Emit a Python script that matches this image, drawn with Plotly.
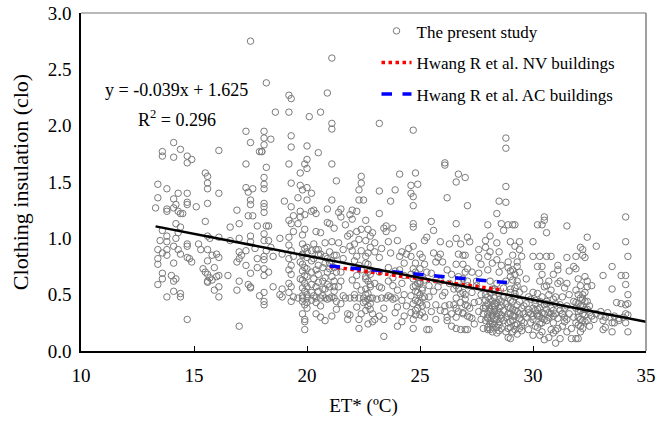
import plotly.graph_objects as go

# ---- The present study: (ET*, clo) pairs, grouped by ET* band ----
band_13_15 = [
    (13.3, 1.27), (13.4, 1.48), (13.4, 1.36), (13.6, 1.77), (13.6, 1.73), (13.8, 1.44), (13.8, 1.26),
    (13.8, 1.24), (13.6, 1.07), (13.8, 1.02), (13.5, 0.98), (13.4, 0.90), (13.6, 0.87), (13.4, 0.82),
    (13.4, 0.77), (13.6, 0.69), (13.6, 0.64), (13.4, 0.59), (13.8, 0.48), (13.8, 0.97), (13.8, 0.90),
    (13.8, 0.85), (14.1, 1.85), (14.1, 1.72), (14.4, 1.79), (14.1, 1.35), (14.3, 1.40), (14.2, 1.30),
    (14.1, 1.27), (14.3, 1.24), (14.4, 1.22), (14.2, 1.13), (14.4, 1.10), (14.3, 1.05), (14.2, 1.00),
    (14.1, 0.93), (14.3, 0.90), (14.4, 0.86), (14.1, 0.78), (14.0, 0.67), (14.1, 0.62), (14.2, 0.64),
    (14.1, 0.53), (14.4, 0.51), (14.4, 0.48), (14.5, 1.22), (14.7, 1.73), (14.7, 1.67), (14.9, 1.70),
    (14.7, 1.40), (14.7, 1.32), (14.7, 1.30), (14.7, 0.95), (14.7, 0.93), (14.7, 0.83), (14.8, 0.82),
    (14.9, 0.79), (14.7, 0.28),
]
band_15_17 = [
    (15.1, 1.28), (15.2, 0.95), (15.3, 0.90), (15.5, 1.58), (15.6, 1.55), (15.6, 1.49), (15.6, 1.44),
    (15.6, 1.31), (15.5, 1.15), (15.6, 1.02), (15.7, 1.00), (15.6, 0.90), (15.6, 0.80), (15.4, 0.73),
    (15.6, 0.68), (15.5, 0.70), (15.7, 0.65), (15.6, 0.62), (15.6, 0.61), (16.1, 1.78), (16.1, 1.40),
    (16.1, 1.01), (16.0, 0.86), (16.1, 0.83), (15.9, 0.74), (16.1, 0.67), (16.0, 0.66), (16.1, 0.57),
    (15.9, 0.54), (16.1, 0.48), (16.6, 0.98), (16.5, 0.67), (16.6, 1.10), (15.8, 0.63), (15.8, 0.85),
    (16.9, 1.25), (17.0, 1.13), (17.0, 1.00), (17.0, 0.88), (17.1, 0.85), (17.0, 0.82), (16.9, 0.79),
    (17.0, 0.62), (16.9, 0.54), (17.0, 0.22),
]
band_17_19 = [
    (17.3, 1.66), (17.3, 1.95), (17.3, 1.45), (17.4, 1.41), (17.4, 1.20), (17.5, 1.02), (17.5, 0.97),
    (17.3, 0.89), (17.3, 0.76), (17.5, 0.69), (17.4, 0.59), (17.5, 0.57), (17.5, 0.56), (17.5, 2.75),
    (17.5, 1.85), (17.6, 1.44), (17.5, 1.34), (17.5, 1.30), (17.6, 1.20), (17.9, 1.77), (18.0, 1.77),
    (17.8, 1.11), (17.7, 0.91), (17.8, 0.82), (17.8, 0.74), (17.9, 0.49), (18.1, 1.95), (18.1, 1.89),
    (18.1, 1.83), (18.0, 1.77), (18.2, 1.63), (18.1, 1.54), (18.1, 1.48), (18.1, 1.44), (18.1, 1.31),
    (18.1, 1.28), (18.1, 1.23), (18.2, 1.11), (18.1, 1.04), (18.1, 0.98), (18.2, 0.89), (18.1, 0.84),
    (18.1, 0.81), (18.1, 0.73), (18.1, 0.67), (18.1, 0.52), (18.1, 0.44), (18.1, 0.41), (18.2, 2.38),
    (18.4, 1.88), (18.3, 1.11), (18.3, 0.98), (18.4, 0.92), (18.5, 0.84), (18.3, 0.70), (18.5, 0.57),
    (18.6, 2.12), (18.8, 1.00), (18.9, 0.86), (18.9, 0.55), (18.8, 0.50), (18.9, 0.48),
]
band_19_20 = [
    (19.0, 1.33), (19.2, 1.16), (19.3, 1.28), (19.2, 2.27), (19.3, 2.24), (19.2, 2.12), (19.3, 1.91),
    (19.3, 1.81), (19.2, 1.66), (19.3, 1.49), (19.3, 1.13), (19.4, 1.06), (19.2, 1.01), (19.2, 0.94),
    (19.3, 0.89), (19.4, 0.84), (19.2, 0.82), (19.3, 0.76), (19.2, 0.72), (19.3, 0.68), (19.2, 0.60),
    (19.3, 0.57), (19.2, 0.52), (19.4, 0.48), (19.3, 0.44), (19.4, 1.20), (19.7, 1.58), (19.7, 1.47),
    (19.8, 1.43), (19.6, 1.36), (19.7, 1.24), (19.9, 1.21), (19.7, 1.19), (19.6, 1.13), (19.9, 1.08),
    (19.8, 1.03), (19.9, 0.91), (20.0, 0.88), (19.8, 0.85), (20.0, 0.83), (19.7, 0.79), (19.9, 0.74),
    (19.8, 0.71), (19.9, 0.67), (19.7, 0.64), (19.9, 0.60), (20.0, 0.57), (19.9, 0.53), (19.8, 0.49),
    (20.0, 0.47), (19.8, 0.44), (19.9, 0.41), (20.0, 0.38), (19.8, 0.33), (19.9, 0.28), (19.9, 0.26),
    (19.9, 0.19), (19.9, 1.66), (20.0, 1.62), (20.0, 1.70), (20.0, 1.82), (20.0, 1.45), (20.0, 1.34),
    (20.2, 1.24), (20.2, 1.40), (20.1, 2.08), (19.8, 0.95), (20.0, 0.92), (20.2, 0.89), (19.8, 0.86),
    (20.2, 0.80), (19.8, 0.77), (20.0, 0.73), (20.2, 0.70), (20.0, 0.66), (19.8, 0.63), (20.2, 0.59),
    (19.8, 0.56), (20.2, 0.52), (20.0, 0.50), (20.2, 0.45), (20.0, 0.43), (19.6, 0.47), (19.8, 0.47),
]
band_20_22 = [
    (20.5, 1.76), (20.3, 1.25), (20.4, 1.22), (20.4, 1.06), (20.3, 0.95), (20.4, 0.90), (20.5, 0.86),
    (20.3, 0.82), (20.5, 0.76), (20.4, 0.72), (20.5, 0.68), (20.3, 0.64), (20.5, 0.61), (20.4, 0.57),
    (20.5, 0.53), (20.3, 0.49), (20.6, 0.47), (20.4, 0.43), (20.6, 0.40), (20.4, 0.33), (20.6, 0.30),
    (20.8, 0.27), (20.6, 2.12), (20.6, 1.05), (20.8, 0.96), (20.9, 1.26), (20.9, 1.14), (20.9, 0.82),
    (20.8, 0.78), (20.7, 0.74), (20.9, 0.70), (20.8, 0.65), (20.7, 0.62), (20.9, 0.59), (20.8, 0.55),
    (20.7, 0.49), (20.9, 0.46), (20.9, 2.29), (20.4, 0.47), (20.8, 0.47), (21.0, 0.47), (21.2, 0.47),
    (20.6, 0.86), (20.8, 0.84), (21.0, 0.78), (20.7, 0.55), (21.2, 0.74), (20.5, 0.90), (21.3, 0.85),
    (21.2, 0.57), (21.1, 2.60), (21.1, 2.02), (21.1, 1.97), (21.1, 1.66), (21.1, 1.34), (21.0, 1.13),
    (21.2, 1.09), (21.1, 0.97), (21.0, 0.88), (21.2, 0.85), (21.1, 0.80), (21.0, 0.73), (21.3, 0.70),
    (21.1, 0.66), (21.2, 0.62), (21.0, 0.57), (21.2, 0.53), (21.1, 0.48), (21.3, 0.44), (21.1, 0.31),
    (21.3, 1.51), (21.5, 1.26), (21.4, 1.23), (21.5, 1.19), (21.4, 0.96), (21.6, 0.82), (21.5, 0.70),
    (21.5, 0.62), (21.4, 0.57), (21.6, 0.49), (21.5, 0.42), (21.8, 0.33), (21.8, 0.28), (21.9, 1.21),
    (21.7, 1.12), (21.9, 0.93), (21.6, 0.90), (21.8, 1.02), (21.3, 0.37), (21.9, 0.32), (21.7, 0.47),
    (21.9, 0.47),
]
band_22_24 = [
    (22.0, 1.25), (22.0, 1.17), (22.2, 1.24), (21.9, 1.04), (22.4, 1.08), (22.3, 0.99), (22.1, 0.95),
    (22.0, 0.89), (22.2, 0.84), (22.1, 0.80), (22.3, 0.76), (22.4, 0.72), (22.2, 0.67), (22.0, 0.63),
    (22.2, 0.58), (22.4, 0.54), (22.1, 0.50), (22.3, 0.47), (22.5, 0.43), (22.2, 0.39), (22.4, 0.33),
    (22.3, 0.28), (22.4, 1.55), (22.4, 1.49), (22.3, 1.43), (22.3, 1.34), (22.5, 1.34), (22.6, 0.84),
    (22.7, 0.77), (22.8, 0.68), (22.6, 0.64), (22.8, 0.59), (22.6, 0.55), (22.7, 0.51), (22.8, 0.47),
    (22.6, 0.44), (22.7, 0.40), (22.8, 0.37), (22.7, 0.24), (22.7, 1.08), (22.8, 1.02), (22.6, 0.98),
    (22.8, 0.92), (22.7, 0.87), (23.0, 0.28), (22.6, 0.78), (22.8, 0.72), (22.7, 0.62), (22.8, 0.57),
    (22.6, 0.50), (22.7, 0.46), (22.8, 0.42), (22.6, 0.36), (22.9, 0.33), (22.7, 0.70), (22.6, 0.66),
    (22.1, 0.47), (22.5, 0.47), (22.9, 0.47), (23.3, 0.47), (23.5, 0.47), (23.9, 0.47), (22.2, 1.06),
    (22.6, 1.16), (22.9, 1.05), (23.0, 0.96), (23.3, 0.91), (23.6, 0.97), (22.4, 0.89), (23.4, 1.09),
    (23.2, 2.02), (23.2, 1.42), (23.2, 1.22), (23.5, 1.11), (23.5, 1.06), (23.0, 0.88), (23.2, 0.83),
    (23.2, 0.70), (23.0, 0.60), (23.2, 0.57), (23.1, 0.46), (23.2, 0.31), (23.4, 0.28), (23.4, 0.13),
    (23.7, 1.33), (23.9, 1.43), (23.8, 1.09), (23.7, 0.87), (23.6, 0.74), (23.8, 0.65), (23.7, 0.48),
    (23.8, 0.46), (23.6, 0.49), (24.0, 0.39), (23.9, 0.34), (24.2, 0.26), (24.1, 1.57), (24.0, 0.98),
    (24.1, 0.84), (24.1, 0.72), (24.3, 0.67), (24.2, 0.60), (24.0, 0.54), (24.3, 0.50), (24.2, 0.45),
    (24.4, 0.40), (24.3, 0.78), (24.2, 0.88), (23.9, 0.71), (23.6, 0.62), (23.3, 0.56), (23.4, 0.38),
    (23.8, 0.58), (24.3, 0.31), (24.0, 0.22), (22.9, 0.26), (22.3, 0.20),
]
band_24_26 = [
    (24.7, 1.96), (24.8, 1.58), (24.9, 1.48), (24.6, 1.47), (24.6, 1.40), (24.7, 1.37), (24.7, 1.29),
    (24.7, 1.13), (24.7, 1.10), (24.7, 0.93), (24.5, 0.91), (24.4, 0.86), (24.6, 0.84), (24.8, 0.78),
    (24.7, 0.73), (24.8, 0.70), (24.6, 0.68), (24.7, 0.64), (24.9, 0.60), (24.7, 0.57), (24.8, 0.53),
    (24.6, 0.49), (24.8, 0.45), (24.7, 0.42), (24.9, 0.38), (24.6, 0.34), (24.8, 0.32), (24.7, 0.28),
    (24.7, 0.20), (25.0, 0.60), (25.1, 0.54), (25.0, 0.50), (25.1, 0.47), (25.0, 0.43), (25.1, 0.34),
    (25.0, 0.32), (25.2, 0.98), (25.3, 1.01), (25.0, 0.86), (25.1, 0.83), (25.2, 0.77), (25.0, 0.73),
    (25.3, 0.70), (25.1, 0.66), (25.2, 0.63), (25.3, 0.19), (25.4, 0.19), (25.3, 0.41), (25.4, 0.58),
    (24.9, 0.66), (25.0, 0.62), (24.8, 0.58), (25.1, 0.56), (24.9, 0.52), (25.2, 0.48), (24.9, 0.44),
    (25.1, 0.40), (24.8, 0.36), (25.2, 0.30), (25.5, 1.15), (25.6, 1.07), (25.6, 0.87), (25.8, 0.83),
    (25.7, 0.79), (25.5, 0.69), (25.6, 0.53), (25.4, 0.48), (25.7, 0.41), (25.9, 0.97), (25.9, 0.62),
    (26.0, 0.49), (25.9, 0.36), (26.1, 0.35), (26.2, 0.30), (26.2, 0.27), (25.9, 0.86), (26.0, 0.79),
    (25.7, 0.63), (25.8, 0.57), (25.7, 0.28), (25.5, 0.35),
]
band_26_28 = [
    (26.1, 1.67), (26.1, 1.65), (26.2, 1.36), (26.3, 0.95), (26.1, 0.52), (26.3, 0.41), (26.4, 0.33),
    (26.6, 1.50), (26.7, 1.57), (26.6, 1.13), (26.6, 1.00), (26.8, 0.95), (26.7, 0.86), (26.6, 0.77),
    (26.7, 0.66), (26.6, 0.58), (26.7, 0.55), (26.8, 0.51), (26.6, 0.47), (26.5, 0.41), (26.7, 0.35),
    (26.6, 0.30), (26.6, 0.20), (26.8, 0.19), (27.0, 1.54), (27.1, 1.29), (27.1, 1.01), (27.2, 0.97),
    (26.9, 0.85), (27.0, 0.85), (27.1, 0.73), (27.0, 0.70), (26.9, 0.64), (27.1, 0.58), (27.0, 0.50),
    (27.0, 0.41), (27.2, 0.38), (26.9, 0.34), (27.1, 0.31), (27.3, 0.29), (27.0, 0.19), (27.1, 0.19),
    (27.4, 0.43), (27.6, 0.69), (27.5, 0.58), (27.7, 0.50), (27.6, 0.44), (27.8, 0.38), (27.6, 0.35),
    (27.7, 0.28), (27.6, 0.83), (27.7, 0.77), (26.7, 0.62), (26.9, 0.52), (27.0, 0.46), (26.8, 0.43),
    (27.1, 0.40), (26.6, 0.38), (26.9, 0.33), (27.2, 0.30), (27.1, 0.62), (26.2, 0.72), (26.4, 0.68),
    (26.3, 0.60), (26.5, 0.55), (26.9, 0.77), (27.3, 0.70), (27.5, 0.62), (27.3, 0.52), (27.6, 0.90),
    (26.4, 0.22), (26.1, 0.40), (27.4, 0.24), (27.8, 0.20),
]
band_28_29 = [
    (28.1, 1.02), (27.9, 0.92), (28.1, 0.88), (28.0, 0.84), (28.2, 0.78), (28.0, 0.72), (28.1, 0.62),
    (28.2, 0.55), (27.9, 0.50), (28.1, 0.46), (28.0, 0.42), (28.2, 0.40), (27.9, 0.38), (28.1, 0.35),
    (28.0, 0.33), (28.2, 0.31), (28.0, 0.29), (28.1, 0.27), (28.2, 0.24), (28.0, 0.21), (28.1, 0.19),
    (28.2, 0.17), (28.4, 1.22), (28.5, 1.33), (28.6, 1.13), (28.7, 1.07), (28.4, 0.96), (28.5, 0.88),
    (28.4, 0.81), (28.6, 0.76), (28.5, 0.70), (28.4, 0.60), (28.3, 0.53), (28.5, 0.46), (28.4, 0.43),
    (28.6, 0.40), (28.3, 0.37), (28.5, 0.34), (28.4, 0.31), (28.6, 0.29), (28.5, 0.26), (28.3, 0.24),
    (28.4, 0.21), (28.5, 0.18), (28.3, 0.42), (28.3, 0.35), (28.4, 0.28), (28.0, 1.12), (27.9, 0.98),
    (27.9, 0.45), (28.0, 0.48), (28.2, 0.44), (28.3, 0.47), (28.6, 0.44), (28.7, 0.48), (28.8, 0.42),
    (27.9, 0.40), (28.1, 0.37), (28.3, 0.40), (28.5, 0.38), (28.7, 0.36), (28.9, 0.39), (27.8, 0.33),
    (28.0, 0.30), (28.2, 0.34), (28.4, 0.33), (28.6, 0.32), (28.8, 0.30), (27.9, 0.27), (28.1, 0.24),
    (28.3, 0.28), (28.5, 0.23), (28.7, 0.27), (28.9, 0.25), (28.0, 0.19), (28.2, 0.21), (28.4, 0.16),
    (28.6, 0.20), (28.8, 0.17), (28.1, 0.52), (28.3, 0.55), (28.5, 0.51), (28.7, 0.56), (28.8, 0.62),
]
band_29_30 = [
    (28.8, 1.89), (28.8, 1.80), (28.8, 1.46), (28.8, 1.32), (28.9, 1.12), (29.1, 1.12), (29.2, 1.12),
    (29.0, 0.97), (29.2, 0.93), (29.4, 0.90), (29.1, 0.85), (28.9, 0.79), (29.3, 0.75), (29.0, 0.71),
    (29.2, 0.68), (29.1, 0.63), (29.3, 0.58), (29.0, 0.55), (29.2, 0.51), (28.9, 0.47), (29.1, 0.44),
    (29.3, 0.41), (29.0, 0.38), (29.2, 0.36), (28.9, 0.33), (29.1, 0.31), (29.4, 0.29), (29.0, 0.26),
    (29.2, 0.23), (28.9, 0.20), (29.1, 0.17), (28.9, 0.12), (29.0, 0.11), (29.3, 0.15), (29.5, 0.18),
    (29.5, 0.22), (29.5, 0.84), (29.4, 0.97), (29.6, 0.55), (29.7, 0.64), (29.8, 0.48), (29.6, 0.40),
    (29.0, 0.45), (29.2, 0.48), (29.4, 0.44), (29.1, 0.37), (29.3, 0.35), (29.5, 0.38), (29.0, 0.33),
    (29.2, 0.31), (29.4, 0.33), (29.1, 0.27), (29.3, 0.24), (29.5, 0.27), (29.0, 0.21), (29.2, 0.19),
    (29.4, 0.20), (29.0, 0.52), (29.2, 0.56), (29.4, 0.52), (29.0, 0.66), (29.3, 0.62), (29.1, 0.72),
    (29.3, 0.79), (29.4, 0.70), (28.9, 0.74), (30.0, 0.84), (30.0, 0.97), (30.0, 0.52), (29.9, 0.46),
    (30.1, 0.42), (30.0, 0.38), (29.8, 0.34), (30.2, 0.31), (30.0, 0.28), (29.9, 0.25), (30.1, 0.22),
    (29.8, 0.19), (30.0, 0.14), (29.6, 0.33), (29.7, 0.30), (29.8, 0.37), (29.9, 0.33), (30.0, 0.31),
    (30.1, 0.36), (29.7, 0.42), (30.1, 0.45), (29.6, 0.25),
]
band_30_32 = [
    (30.2, 1.12), (30.3, 0.84), (30.2, 0.75), (30.4, 0.68), (30.3, 0.62), (30.5, 0.57), (30.2, 0.51),
    (30.4, 0.48), (30.3, 0.44), (30.5, 0.41), (30.2, 0.37), (30.4, 0.34), (30.3, 0.31), (30.5, 0.28),
    (30.4, 0.25), (30.2, 0.21), (30.4, 0.17), (30.3, 0.14), (30.5, 0.10), (30.5, 1.19), (30.5, 1.16),
    (30.4, 1.12), (30.6, 1.05), (30.6, 0.84), (30.4, 0.75), (30.8, 0.84), (30.9, 0.68), (30.7, 0.62),
    (30.6, 0.58), (30.8, 0.54), (30.7, 0.50), (30.9, 0.46), (30.6, 0.42), (30.8, 0.38), (30.7, 0.34),
    (30.9, 0.31), (30.6, 0.27), (30.8, 0.19), (30.9, 0.16), (30.7, 0.12), (31.0, 0.07), (31.2, 0.11),
    (31.0, 0.18), (31.1, 0.20), (31.0, 0.48), (31.1, 0.60), (31.2, 0.62), (31.2, 0.41), (31.3, 0.33),
    (31.4, 0.30), (31.1, 0.76), (31.1, 0.72), (31.3, 0.48), (31.4, 0.26), (31.5, 1.11), (31.5, 0.83),
    (31.6, 0.71), (31.5, 0.60), (31.4, 0.56), (31.6, 0.50), (31.5, 0.40), (31.6, 0.33), (31.5, 0.28),
    (31.5, 0.17), (31.7, 0.11), (31.7, 0.20), (30.2, 0.33), (30.3, 0.38), (30.4, 0.29), (30.5, 0.33),
    (30.6, 0.37), (30.7, 0.30), (30.8, 0.33), (30.9, 0.36), (31.0, 0.33), (31.1, 0.29), (31.2, 0.36),
    (31.3, 0.33), (31.4, 0.38), (30.6, 0.44), (31.0, 0.42), (30.3, 0.24), (30.9, 0.25), (31.3, 0.22),
]
band_32_35 = [
    (31.9, 0.84), (31.8, 0.75), (31.9, 0.73), (32.0, 0.64), (32.1, 0.58), (31.9, 0.54), (32.0, 0.50),
    (32.2, 0.46), (31.9, 0.43), (32.1, 0.40), (32.3, 0.37), (32.0, 0.35), (32.2, 0.33), (31.8, 0.30),
    (32.1, 0.28), (32.3, 0.26), (32.0, 0.23), (32.2, 0.20), (32.1, 0.17), (32.0, 0.11), (31.9, 0.11),
    (32.1, 0.92), (32.2, 0.85), (32.3, 0.83), (32.2, 0.90), (32.4, 1.01), (32.3, 0.66), (32.4, 0.62),
    (32.4, 0.57), (32.4, 0.44), (32.5, 0.40), (32.5, 0.34), (32.5, 0.22), (32.6, 0.31), (32.6, 0.58),
    (32.8, 0.93), (32.7, 0.28), (31.8, 0.44), (31.9, 0.38), (32.0, 0.42), (32.1, 0.36), (32.2, 0.40),
    (32.3, 0.44), (32.4, 0.37), (32.0, 0.30), (32.2, 0.27), (32.3, 0.32), (32.1, 0.22), (32.4, 0.27),
    (31.9, 0.25), (32.2, 0.50), (32.3, 0.52), (32.1, 0.47), (33.1, 0.67), (33.0, 0.35), (33.1, 0.27),
    (33.2, 0.21), (33.1, 0.19), (33.3, 0.34), (33.4, 0.30), (33.5, 0.25), (33.5, 0.17), (33.5, 0.75),
    (33.5, 0.55), (33.7, 0.43), (33.6, 0.31), (33.8, 0.29), (33.9, 0.67), (34.1, 0.67), (34.1, 0.97),
    (34.1, 1.19), (34.1, 0.59), (34.2, 0.84), (34.2, 0.50), (34.2, 0.42), (34.1, 0.41), (34.1, 0.33),
    (34.2, 0.32), (34.1, 0.25), (34.2, 0.17), (33.9, 0.42), (32.8, 0.33), (33.0, 0.31), (33.2, 0.30),
    (33.6, 0.25), (33.8, 0.27), (34.0, 0.30),
]

study_points = (band_13_15 + band_15_17 + band_17_19 + band_19_20 + band_20_22 + band_22_24
                + band_24_26 + band_26_28 + band_28_29 + band_29_30 + band_30_32 + band_32_35)
et_star = [p[0] for p in study_points]
clo = [p[1] for p in study_points]

# ---- Linear fit of the present study ----
fit_slope = -0.039
fit_intercept = 1.625
fit_x = [13.3, 35.0]
fit_y = [fit_slope * x + fit_intercept for x in fit_x]

# ---- Hwang R et al. lines ----
nv_x = [21.0, 28.7]
nv_y = [0.75, 0.54]
ac_x = [21.0, 28.85]
ac_y = [0.755, 0.607]

x_ticks = [10, 15, 20, 25, 30, 35]
y_ticks = [0.0, 0.5, 1.0, 1.5, 2.0, 2.5, 3.0]

FONT = "Liberation Serif, Times New Roman, serif"

fig = go.Figure()
fig.add_trace(go.Scatter(
    x=et_star, y=clo, mode="markers", name="The present study",
    legendgroup="a",
    marker=dict(symbol="circle-open", size=6.5, color="#7a7a7a", line=dict(width=1, color="#7a7a7a")),
))
fig.add_trace(go.Scatter(
    x=nv_x, y=nv_y, mode="lines", name="Hwang R et al. NV buildings",
    legendgroup="b",
    line=dict(color="#ff0000", width=3.5, dash="dot"),
))
fig.add_trace(go.Scatter(
    x=ac_x, y=ac_y, mode="lines", name="Hwang R et al. AC buildings",
    legendgroup="c",
    line=dict(color="#0000ff", width=3.5, dash="dash"),
))
fig.add_trace(go.Scatter(
    x=fit_x, y=fit_y, mode="lines", showlegend=False,
    line=dict(color="#000000", width=2.5),
))

fig.update_layout(
    width=670, height=422,
    margin=dict(l=81, r=24, t=13, b=71),
    paper_bgcolor="white", plot_bgcolor="white",
    font=dict(family=FONT, size=18, color="black"),
    showlegend=True,
    legend=dict(
        x=0.523, y=0.999, xanchor="left", yanchor="top",
        bgcolor="rgba(0,0,0,0)", borderwidth=0,
        font=dict(family=FONT, size=17, color="black"),
        traceorder="grouped", tracegroupgap=6.5,
    ),
    xaxis=dict(
        range=[10, 35], tickvals=x_ticks, ticktext=[str(v) for v in x_ticks],
        automargin=False,
        showgrid=False, zeroline=False,
        showline=True, linecolor="black", linewidth=1.5,
        ticks="inside", ticklen=5, tickcolor="black", tickwidth=1,
        ticklabelstandoff=6,
        tickfont=dict(family=FONT, size=19),
        title=dict(text="ET* (ºC)", font=dict(family=FONT, size=19), standoff=14),
    ),
    yaxis=dict(
        range=[0, 3], tickvals=y_ticks, ticktext=[f"{v:.1f}" for v in y_ticks],
        automargin=False,
        showgrid=False, zeroline=False,
        showline=True, linecolor="black", linewidth=1.5,
        ticks="", ticklabelstandoff=4,
        tickfont=dict(family=FONT, size=19),
        title=dict(text="Clothing insulation (clo)", font=dict(family=FONT, size=22), standoff=13),
    ),
    shapes=[
        dict(type="line", xref="paper", yref="paper", x0=0, x1=1, y0=1, y1=1,
             line=dict(color="#a0a0a0", width=1.5)),
        dict(type="line", xref="paper", yref="paper", x0=1, x1=1, y0=0, y1=1,
             line=dict(color="#808080", width=1.5)),
    ],
    annotations=[
        dict(text="y = -0.039x + 1.625", xref="paper", yref="paper",
             x=(176 - 81) / 565, y=(351.5 - 90) / 338.5, xanchor="center", yanchor="middle",
             showarrow=False, font=dict(family=FONT, size=18, color="black")),
        dict(text="R<sup>2</sup> = 0.296", xref="paper", yref="paper",
             x=(177 - 81) / 565, y=(351.5 - 119) / 338.5, xanchor="center", yanchor="middle",
             showarrow=False, font=dict(family=FONT, size=18, color="black")),
    ],
)

fig.write_html("out.html")
